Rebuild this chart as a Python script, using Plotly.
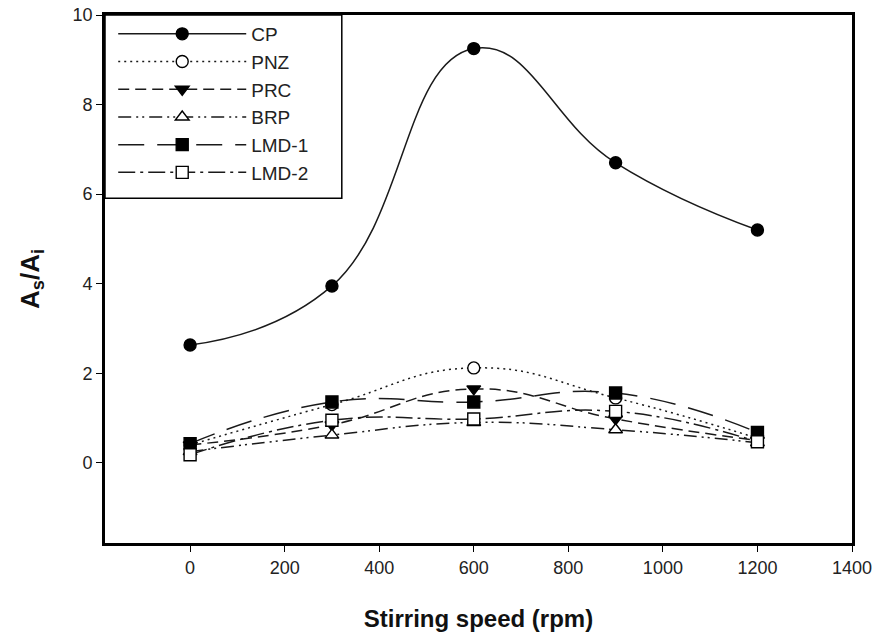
import plotly.graph_objects as go

speed = [0, 300, 600, 900, 1200]
cp = [2.63, 3.95, 9.25, 6.70, 5.20]
pnz = [0.40, 1.30, 2.12, 1.45, 0.55]
prc = [0.40, 0.85, 1.65, 0.98, 0.50]
brp = [0.25, 0.62, 0.90, 0.74, 0.45]
lmd1 = [0.43, 1.36, 1.36, 1.56, 0.68]
lmd2 = [0.18, 0.95, 0.98, 1.15, 0.47]

x_ticks = [0, 200, 400, 600, 800, 1000, 1200, 1400]
y_ticks = [0, 2, 4, 6, 8, 10]

series = [
    ("CP", cp, "solid", "circle", "black"),
    ("PNZ", pnz, "2px,4px", "circle", "white"),
    ("PRC", prc, "11px,6px", "triangle-down", "black"),
    ("BRP", brp, "13px,5px,2px,4px,2px,5px", "triangle-up", "white"),
    ("LMD-1", lmd1, "26px,13px", "square", "black"),
    ("LMD-2", lmd2, "17px,5px,3px,5px", "square", "white"),
]

fig = go.Figure()
for name, vals, dash, sym, fill in series:
    fig.add_trace(go.Scatter(
        x=speed, y=vals, name=name, mode="lines+markers",
        line=dict(color="#1a1a1a", width=1.5, dash=dash, shape="spline", smoothing=1.3),
        marker=dict(symbol=sym, size=12, color=fill,
                    line=dict(color="black", width=1.4)),
    ))

axis_common = dict(
    showgrid=False, zeroline=False, showline=True, linecolor="black", linewidth=2.8,
    mirror=True, ticks="outside", ticklen=6, tickwidth=1.2, tickcolor="black",
    automargin=False,
    tickfont=dict(family="Liberation Sans, Arial", size=18, color="#222"),
)

fig.update_layout(
    width=887, height=636,
    margin=dict(l=105, r=35, t=15, b=93),
    paper_bgcolor="white", plot_bgcolor="white",
    showlegend=True,
    legend=dict(
        x=0.011, y=1, xanchor="left", yanchor="top",
        bgcolor="rgba(0,0,0,0)", borderwidth=0,
        font=dict(family="Liberation Sans, Arial", size=19, color="#222"),
        itemwidth=128, tracegroupgap=0,
    ),
    shapes=[dict(type="rect", xref="paper", yref="paper",
                 x0=0, x1=0.317, y0=0.653, y1=1,
                 line=dict(color="black", width=1.5), fillcolor="white",
                 layer="above")],
    xaxis=dict(range=[-180, 1400], tickvals=x_ticks,
               title=dict(text="<b>Stirring speed (rpm)</b>", standoff=34,
                          font=dict(family="Liberation Sans, Arial", size=24, color="#111")),
               **axis_common),
    yaxis=dict(range=[-1.79, 10], tickvals=y_ticks,
               title=dict(text="<b>A<sub>s</sub>/A<sub>i</sub></b>", standoff=26,
                          font=dict(family="Liberation Sans, Arial", size=26, color="#111")),
               **axis_common),
)

fig.write_html("out.html")
